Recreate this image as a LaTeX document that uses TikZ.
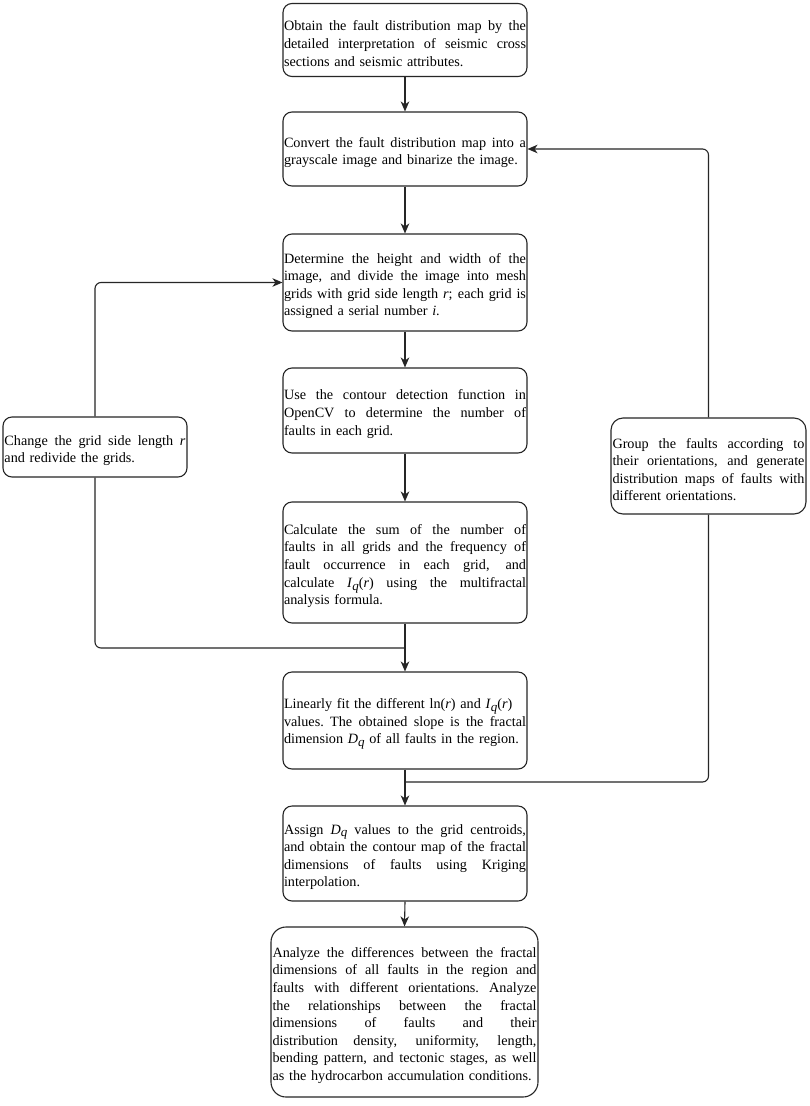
\documentclass[tikz,border=0pt]{standalone}
\usepackage{fontspec}
\setmainfont{Liberation Serif}
\usetikzlibrary{arrows.meta}
\newcommand\qs{\raisebox{-0.45ex}{\fontsize{13}{13}\selectfont\textit{q}}}
\def\curw{240pt}
\newcommand\JL[1]{\leavevmode\hbox to \curw{\spaceskip=0.25em plus 1fil\xspaceskip=\spaceskip\relax #1}}
\tikzset{
  box/.style={draw=black!85, line width=1.1pt, rounded corners=9pt, rectangle,
    inner sep=0pt, align=left, font=\fontsize{14.2}{17.6}\selectfont,
    execute at end node={\par\kern-7pt}},
  tw/.style={text width=#1, execute at begin node={\def\curw{#1}}},
  conn/.style={draw=black!85, line width=1.1pt, rounded corners=6pt},
  arr/.style={conn, -{Stealth[length=10pt,width=8.5pt,inset=3pt]}}
}
\begin{document}
\begin{tikzpicture}[x=1pt,y=-1pt]
\useasboundingbox[fill=white] (0,0) rectangle (809,1106);

\node[box, minimum width=244pt, minimum height=73pt, tw=242pt] (b1) at (405,40)
 {\JL{Obtain the fault distribution map by the}\\
  \JL{detailed interpretation of seismic cross}\\
  sections and seismic attributes.};

\node[box, minimum width=244pt, minimum height=74pt, tw=242pt] (b2) at (405,149)
 {\JL{Convert the fault distribution map into a}\\
  grayscale image and binarize the image.};

\node[box, minimum width=244pt, minimum height=97pt, tw=242pt] (b3) at (405,282.5)
 {\JL{Determine the height and width of the}\\
  \JL{image, and divide the image into mesh}\\
  \JL{grids with grid side length \textit{r}; each grid is}\\
  assigned a serial number \textit{i}.};

\node[box, minimum width=244pt, minimum height=85pt, tw=242pt] (b4) at (405,410.5)
 {\JL{Use the contour detection function in}\\
  \JL{OpenCV to determine the number of}\\
  faults in each grid.};

\node[box, minimum width=244pt, minimum height=121pt, tw=242pt] (b5) at (405,562.5)
 {\JL{Calculate the sum of the number of}\\
  \JL{faults in all grids and the frequency of}\\
  \JL{fault occurrence in each grid, and}\\
  \JL{calculate \textit{I}\qs(\textit{r}) using the multifractal}\\
  analysis formula.};

\node[box, minimum width=244pt, minimum height=97pt, tw=242pt] (b6) at (405,720.5)
 {Linearly fit the different ln(\textit{r}) and \textit{I}\qs(\textit{r})\\
  \JL{values. The obtained slope is the fractal}\\
  dimension \textit{D}\qs\ of all faults in the region.};

\node[box, minimum width=244pt, minimum height=95pt, tw=242pt] (b7) at (405,853.5)
 {\JL{Assign \textit{D}\qs\ values to the grid centroids,}\\
  \JL{and obtain the contour map of the fractal}\\
  \JL{dimensions of faults using Kriging}\\
  interpolation.};

\node[box, rounded corners=15pt, minimum width=267pt, minimum height=170pt, tw=264pt] (b8) at (404.5,1012)
 {\JL{Analyze the differences between the fractal}\\
  \JL{dimensions of all faults in the region and}\\
  \JL{faults with different orientations. Analyze}\\
  \JL{the relationships between the fractal}\\
  \JL{dimensions of faults and their}\\
  \JL{distribution density, uniformity, length,}\\
  \JL{bending pattern, and tectonic stages, as well}\\
  as the hydrocarbon accumulation conditions.};

\node[box, minimum width=184pt, minimum height=60pt, tw=181pt] (lb) at (95,447)
 {\JL{Change the grid side length \textit{r}}\\
  and redivide the grids.};

\node[box, rounded corners=12pt, minimum width=195pt, minimum height=96pt, tw=192pt] (rb) at (708.5,466)
 {\JL{Group the faults according to}\\
  \JL{their orientations, and generate}\\
  \JL{distribution maps of faults with}\\
  different orientations.};

\coordinate (jl) at (405,648);
\coordinate (jr) at (405,782);

\draw[arr] (b1.south) -- (b2.north);
\draw[arr] (b2.south) -- (b3.north);
\draw[arr] (b3.south) -- (b4.north);
\draw[arr] (b4.south) -- (b5.north);
\draw[arr] (b5.south) -- (b6.north);
\draw[arr] (b6.south) -- (b7.north);
\draw[arr] (b7.south) -- (b8.north);
\draw[conn] (lb.south) |- (jl);
\draw[arr] (lb.north) |- (b3.west);
\draw[conn] (jr) -| (rb.south);
\draw[arr] (rb.north) |- (b2.east);
\end{tikzpicture}
\end{document}
